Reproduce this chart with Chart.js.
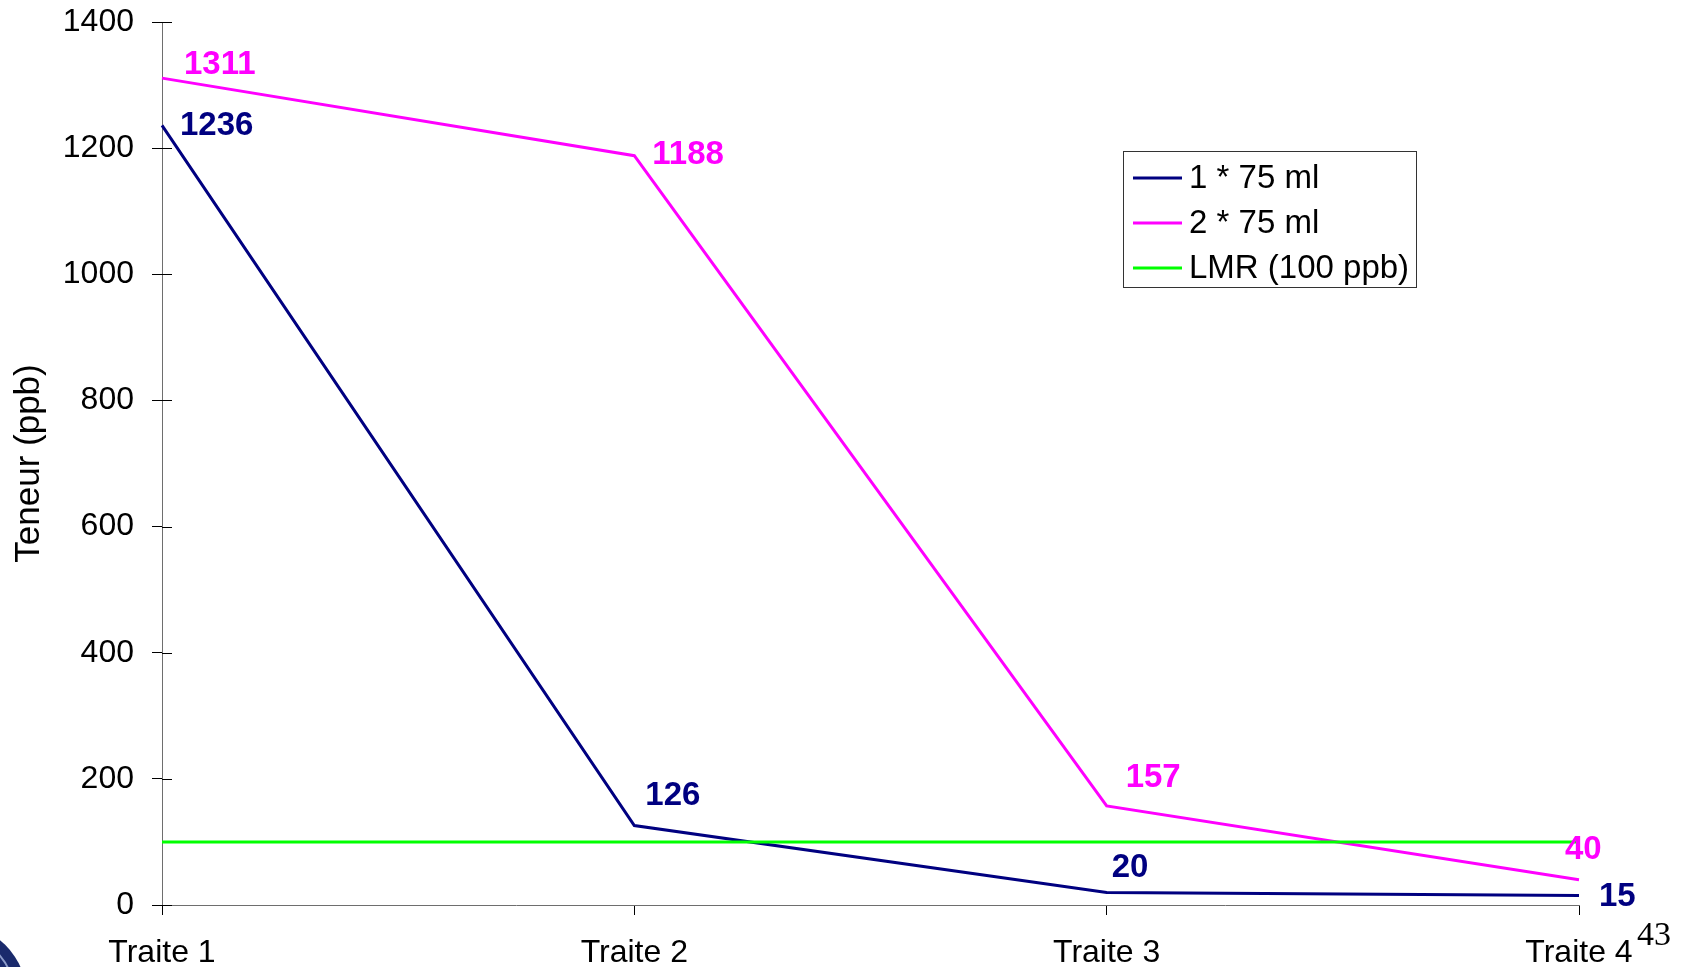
<!DOCTYPE html>
<html>
<head>
<meta charset="utf-8">
<script src="https://cdn.jsdelivr.net/npm/chart.js@4/dist/chart.umd.min.js"></script>
<style>
  html, body { margin: 0; padding: 0; background: #fff; overflow: hidden; }
  #wrap { position: relative; width: 1683px; height: 967px; }
  #c { position: absolute; left: 0; top: 0; }
  #page { position: absolute; left: 1637px; top: 915px; font-family: "Liberation Serif", "DejaVu Serif", serif; font-size: 34px; color: #000; }
  #logo { position: absolute; left: -128px; top: 922px; width: 156px; height: 156px; border-radius: 50%; background: #1a2a6c; }
  #logo::after { content: ""; position: absolute; left: 8px; top: 8px; width: 136px; height: 136px; border-radius: 50%; border: 2px solid #8c9bc9; box-sizing: border-box; }
</style>
</head>
<body>
<div id="wrap">
  <canvas id="c" width="1683" height="967"></canvas>
  <div id="logo"></div>
  <div id="page">43</div>
</div>
<script>
// Categories and measured contents (ppb)
const categories = ['Traite 1', 'Traite 2', 'Traite 3', 'Traite 4'];
const dose1x75 = [1236, 126, 20, 15];
const dose2x75 = [1311, 1188, 157, 40];
const lmr = [100, 100, 100, 100];
const seriesNames = ['1 * 75 ml', '2 * 75 ml', 'LMR (100 ppb)'];
const yTicks = [0, 200, 400, 600, 800, 1000, 1200, 1400];

// Value label placement (left edge dx, vertical centre dy) relative to each point
const labelOffsets = [
  [[18, 0], [11, -30], [5, -24], [20, 1]],
  [[22, -13], [18, -1], [19, -28], [-14, -30]]
];

const FONT = '"Liberation Sans", Arial, sans-serif';

const valueLabels = {
  id: 'valueLabels',
  afterDatasetsDraw(chart) {
    const ctx = chart.ctx;
    ctx.save();
    ctx.font = 'bold 33px ' + FONT;
    ctx.textAlign = 'left';
    ctx.textBaseline = 'middle';
    [0, 1].forEach(di => {
      const ds = chart.data.datasets[di];
      const meta = chart.getDatasetMeta(di);
      ctx.fillStyle = ds.borderColor;
      meta.data.forEach((pt, i) => {
        const off = labelOffsets[di][i];
        ctx.fillText(String(ds.data[i]), pt.x + off[0], pt.y + off[1]);
      });
    });
    ctx.restore();
  }
};

// Inner half of the y tick marks (ticks cross the axis)
const innerTicks = {
  id: 'innerTicks',
  afterDraw(chart) {
    const ctx = chart.ctx;
    const y = chart.scales.y;
    ctx.save();
    ctx.strokeStyle = '#000';
    ctx.lineWidth = 1;
    yTicks.forEach(v => {
      const py = Math.round(y.getPixelForValue(v)) + 0.5;
      ctx.beginPath();
      ctx.moveTo(y.right, py);
      ctx.lineTo(y.right + 10, py);
      ctx.stroke();
    });
    ctx.restore();
  }
};

// Boxed legend inside the plot area
const boxLegend = {
  id: 'boxLegend',
  afterDraw(chart) {
    const ctx = chart.ctx;
    const box = { x: 1123.5, y: 151.5, w: 293, h: 136 };
    ctx.save();
    ctx.fillStyle = '#fff';
    ctx.fillRect(box.x, box.y, box.w, box.h);
    ctx.strokeStyle = '#333';
    ctx.lineWidth = 1;
    ctx.strokeRect(box.x, box.y, box.w, box.h);
    ctx.font = '33px ' + FONT;
    ctx.textAlign = 'left';
    ctx.textBaseline = 'middle';
    chart.data.datasets.forEach((ds, i) => {
      const ly = 178 + i * 45;
      ctx.strokeStyle = ds.borderColor;
      ctx.lineWidth = 3;
      ctx.beginPath();
      ctx.moveTo(1133, ly);
      ctx.lineTo(1182, ly);
      ctx.stroke();
      ctx.fillStyle = '#000';
      ctx.fillText(ds.label, 1189, ly + 1);
    });
    ctx.restore();
  }
};

new Chart(document.getElementById('c'), {
  type: 'line',
  data: {
    labels: categories,
    datasets: [
      { label: seriesNames[0], data: dose1x75, borderColor: '#000080', backgroundColor: '#000080', borderWidth: 3, pointRadius: 0, tension: 0, order: 1 },
      { label: seriesNames[1], data: dose2x75, borderColor: '#ff00ff', backgroundColor: '#ff00ff', borderWidth: 3, pointRadius: 0, tension: 0, order: 2 },
      { label: seriesNames[2], data: lmr, borderColor: '#00ff00', backgroundColor: '#00ff00', borderWidth: 3, pointRadius: 0, tension: 0, order: 0 }
    ]
  },
  options: {
    responsive: false,
    animation: false,
    events: [],
    layout: { padding: { top: 22, right: 104, bottom: 0, left: 0 } },
    plugins: { legend: { display: false }, tooltip: { enabled: false } },
    scales: {
      x: {
        type: 'category',
        offset: false,
        grid: { drawOnChartArea: false, tickLength: 10, color: '#000', lineWidth: 1 },
        border: { color: '#6e6e6e', width: 1 },
        ticks: { font: { family: FONT, size: 32 }, color: '#000', padding: 19, maxRotation: 0, autoSkip: false },
        afterFit(s) { s.height = 62; s.paddingLeft = 0; s.paddingRight = 0; }
      },
      y: {
        min: 0,
        max: 1400,
        afterBuildTicks(s) { s.ticks = yTicks.map(v => ({ value: v })); },
        grid: { drawOnChartArea: false, tickLength: 10, color: '#000', lineWidth: 1 },
        border: { color: '#6e6e6e', width: 1 },
        ticks: { font: { family: FONT, size: 32 }, color: '#000', padding: 18, callback: v => String(v) },
        title: { display: true, text: 'Teneur (ppb)', font: { family: FONT, size: 35 }, color: '#000', padding: { top: 8, bottom: 0 } },
        afterFit(s) { s.width = 162; s.paddingTop = 0; s.paddingBottom = 0; }
      }
    }
  },
  plugins: [valueLabels, innerTicks, boxLegend]
});
</script>
</body>
</html>
